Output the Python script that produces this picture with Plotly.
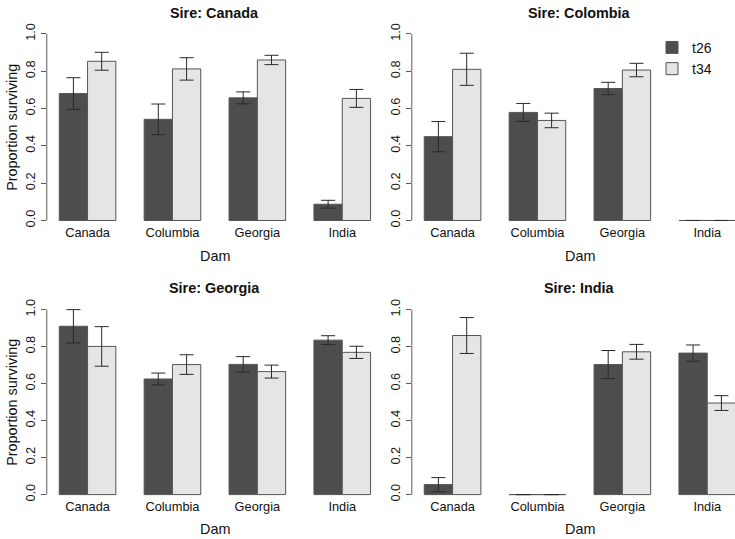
import plotly.graph_objects as go

# ---- data ----
dams = ["Canada", "Columbia", "Georgia", "India"]
sires = ["Canada", "Colombia", "Georgia", "India"]
series_names = ["t26", "t34"]

canada_t26 = [0.680, 0.542, 0.657, 0.087]
canada_t26_err = [0.085, 0.082, 0.032, 0.021]
canada_t34 = [0.853, 0.812, 0.860, 0.654]
canada_t34_err = [0.048, 0.060, 0.025, 0.048]

colombia_t26 = [0.449, 0.579, 0.707, 0.0]
colombia_t26_err = [0.081, 0.048, 0.033, None]
colombia_t34 = [0.810, 0.536, 0.806, 0.0]
colombia_t34_err = [0.086, 0.039, 0.036, None]

georgia_t26 = [0.910, 0.625, 0.704, 0.835]
georgia_t26_err = [0.090, 0.032, 0.042, 0.024]
georgia_t34 = [0.801, 0.703, 0.665, 0.769]
georgia_t34_err = [0.107, 0.053, 0.035, 0.033]

india_t26 = [0.054, 0.0, 0.703, 0.765]
india_t26_err = [0.038, None, 0.076, 0.044]
india_t34 = [0.860, 0.0, 0.772, 0.495]
india_t34_err = [0.097, None, 0.040, 0.040]

y_ticks = [0.0, 0.2, 0.4, 0.6, 0.8, 1.0]
y_ticktext = ["0.0", "0.2", "0.4", "0.6", "0.8", "1.0"]

panels = [
    (canada_t26, canada_t26_err, canada_t34, canada_t34_err),
    (colombia_t26, colombia_t26_err, colombia_t34, colombia_t34_err),
    (georgia_t26, georgia_t26_err, georgia_t34, georgia_t34_err),
    (india_t26, india_t26_err, india_t34, india_t34_err),
]

# ---- styling ----
W, H = 735, 539
FONT = "Liberation Sans, Arial, Helvetica, sans-serif"
DARK = "#4d4d4d"
LIGHT = "#e5e5e5"
BORDER = "#555555"
ERR = "#2a2a2a"
AXIS = "#5a5a5a"
TXT = "#111111"

# pixel geometry of plot regions (left, right, top, bottom)
px_regions = [
    (46.8, 383.1, 23.5, 226.2),
    (411.8, 735.0, 23.5, 226.2),
    (46.8, 383.1, 300.9, 501.8),
    (411.8, 735.0, 300.9, 501.8),
]
cat_px = 84.9  # pixels per category

fig = go.Figure()
layout = dict(
    width=W, height=H,
    margin=dict(l=0, r=0, t=0, b=0),
    paper_bgcolor="white", plot_bgcolor="white",
    barmode="group", bargap=1/3, bargroupgap=0,
    font=dict(family=FONT, size=12.8, color=TXT),
    showlegend=True,
    legend=dict(x=652/W, y=1 - 29/H, xanchor="left", yanchor="top",
                bgcolor="rgba(0,0,0,0)", borderwidth=0,
                font=dict(size=14, family=FONT, color=TXT),
                itemwidth=30, tracegroupgap=0),
)
annotations = []
shapes = []

for i, (a, ae, b, be) in enumerate(panels):
    n = i + 1
    xs = "x" if n == 1 else f"x{n}"
    ys = "y" if n == 1 else f"y{n}"
    xk = "xaxis" if n == 1 else f"xaxis{n}"
    yk = "yaxis" if n == 1 else f"yaxis{n}"
    l, r, t, btm = px_regions[i]
    for vals, errs, name, col in [(a, ae, series_names[0], DARK), (b, be, series_names[1], LIGHT)]:
        fig.add_trace(go.Bar(
            x=dams, y=vals, name=name, xaxis=xs, yaxis=ys,
            marker=dict(color=col, line=dict(color=BORDER, width=1)),
            error_y=dict(type="data", array=errs, visible=True, color=ERR,
                         thickness=1, width=7),
            legendgroup=name, showlegend=(i == 1),
            hoverinfo="skip",
        ))
    x_end = -0.48 + (r - l) / cat_px
    layout[xk] = dict(domain=[l / W, r / W], range=[-0.48, x_end],
                      type="category", anchor=ys, showline=False, showgrid=False,
                      zeroline=False, ticks="", tickfont=dict(size=12.8, color=TXT),
                      ticklabelstandoff=-5)
    layout[yk] = dict(domain=[1 - btm / H, 1 - t / H], range=[-0.04, 1.04],
                      anchor=xs, showline=False, showgrid=False, zeroline=False,
                      tickvals=y_ticks, ticktext=y_ticktext, ticks="outside",
                      ticklen=5, tickcolor=AXIS, tickwidth=1, tickangle=-90,
                      tickfont=dict(size=12.8, color=TXT), ticklabelstandoff=1)
    # axis line from first to last tick, as R draws it
    shapes.append(dict(type="line", xref=f"{xs} domain", yref=ys,
                       x0=0, x1=0, y0=y_ticks[0], y1=y_ticks[-1],
                       line=dict(color=AXIS, width=1)))
    cx = (l + 168.15) / W
    annotations.append(dict(text=f"<b>Sire: {sires[i]}</b>", xref="paper", yref="paper",
                            x=cx, y=1 - (10 if i < 2 else 286.7) / H,
                            xanchor="center", yanchor="middle", showarrow=False,
                            font=dict(size=14.4, family=FONT, color=TXT)))
    annotations.append(dict(text="Dam", xref="paper", yref="paper",
                            x=cx, y=1 - (254 if i < 2 else 528.7) / H,
                            xanchor="center", yanchor="middle", showarrow=False,
                            font=dict(size=14.4, family=FONT, color=TXT)))
    if i % 2 == 0:
        annotations.append(dict(text="Proportion surviving", xref="paper", yref="paper",
                                x=11.7 / W, y=1 - ((t + btm) / 2) / H, textangle=-90,
                                xanchor="center", yanchor="middle", showarrow=False,
                                font=dict(size=14.4, family=FONT, color=TXT)))

layout["annotations"] = annotations
layout["shapes"] = shapes
fig.update_layout(**layout)
fig.write_html(
    "out.html",
    config={"displayModeBar": False},
    post_script="document.body.style.margin='0';document.body.style.overflow='hidden';",
)
